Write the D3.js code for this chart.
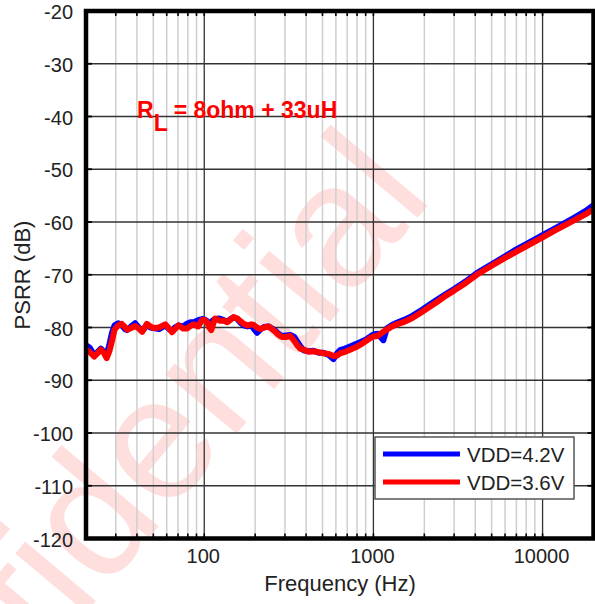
<!DOCTYPE html>
<html>
  <head>
    <meta charset="utf-8">
    <title>PSRR vs Frequency</title>
    <script src="https://d3js.org/d3.v7.min.js"></script>
    <style>
      body { margin: 0; background: #fff; }
      text { font-family: "Liberation Sans", Arial, sans-serif; }
    </style>
  </head>
  <body>
    <div id="chart"></div>
    <script>
      // Data
      var freq = [20, 21, 22.4, 23.5, 24.5, 25.5, 26.5, 27.5, 28.5, 29.5, 31, 32.5, 34, 35, 37, 39, 41, 43,
        45.8, 48, 50, 54, 58.8, 62, 64.5, 67, 70.5, 75, 79, 83, 86.5, 92, 97, 101, 104, 107, 110, 113,
        116, 123, 130, 137, 143, 149, 157, 165, 171, 180, 190, 196, 205, 214, 226, 240, 252, 263, 275,
        288, 305, 322, 340, 353, 370, 386, 415, 442, 475, 506, 545, 580, 610, 635, 680, 728, 780, 834,
        900, 960, 1000, 1060, 1145, 1200, 1290, 1375, 1505, 1700, 1885, 2100, 2365, 2700, 3000, 3500,
        4085, 5000, 6000, 7000, 8000, 10000, 12000, 15150, 18000, 20000];

      var vdd42 = [-83.4, -83.8, -85.3, -84.6, -84.0, -84.6, -85.2, -83.2, -81.0, -79.6, -79.2, -79.5,
        -80.3, -80.5, -79.8, -79.2, -80.0, -80.6, -79.6, -80.0, -80.1, -80.3, -79.6, -80.3, -80.7, -80.0,
        -79.6, -79.8, -79.3, -79.0, -79.0, -78.6, -78.4, -78.5, -78.8, -79.2, -79.0, -78.6, -78.4, -78.3,
        -78.6, -78.9, -78.4, -78.1, -78.4, -79.2, -79.6, -79.8, -79.6, -80.2, -81.0, -80.4, -79.9, -79.8,
        -80.2, -80.6, -81.2, -81.6, -81.5, -81.4, -81.8, -82.6, -83.6, -84.3, -84.5, -84.4, -84.8, -84.8,
        -85.2, -86.0, -84.9, -84.3, -84.0, -83.6, -83.2, -82.8, -82.3, -81.7, -81.3, -81.2, -82.4, -80.2,
        -79.5, -79.1, -78.6, -77.8, -76.9, -75.9, -74.8, -73.6, -72.7, -71.3, -69.7, -68.0, -66.5, -65.2,
        -64.2, -62.5, -61.1, -59.3, -57.9, -56.8];

      var vdd36 = [-84.2, -84.6, -85.5, -84.8, -84.2, -84.8, -85.8, -84.5, -82.5, -80.4, -79.6, -79.3,
        -79.9, -80.4, -80.1, -79.7, -80.2, -80.8, -79.3, -79.8, -80.1, -80.0, -79.4, -80.2, -80.9, -80.3,
        -79.6, -80.2, -80.2, -79.7, -79.4, -79.8, -78.6, -78.6, -79.0, -80.0, -80.5, -79.3, -78.3, -78.7,
        -78.7, -79.0, -78.5, -78.0, -78.3, -78.9, -79.3, -79.6, -79.4, -79.5, -80.0, -80.3, -80.0, -79.8,
        -80.3, -80.8, -81.4, -81.8, -81.8, -81.6, -82.5, -83.3, -84.0, -84.2, -84.6, -84.5, -84.7, -84.9,
        -85.0, -85.4, -85.3, -84.9, -84.6, -84.2, -83.8, -83.3, -82.6, -82.0, -81.7, -81.6, -80.8, -80.4,
        -79.8, -79.4, -79.0, -78.2, -77.3, -76.3, -75.2, -73.9, -73.0, -71.6, -70.0, -68.3, -66.8, -65.6,
        -64.6, -62.9, -61.5, -59.8, -58.5, -57.6];

      var seriesNames = ["VDD=4.2V", "VDD=3.6V"];
      var seriesColors = ["#0000ff", "#ff0000"];
      var yTicks = [-120, -110, -100, -90, -80, -70, -60, -50, -40, -30, -20];
      var xTicks = [100, 1000, 10000];

      var W = 595, H = 604;
      var pL = 86, pR = 593.5, pT = 11, pB = 538.5;

      var svg = d3.select("#chart")
        .append("svg")
          .attr("width", W)
          .attr("height", H);

      var x = d3.scaleLog().domain([20, 20000]).range([pL, pR]);
      var y = d3.scaleLinear().domain([-120, -20]).range([pB, pT]);

      // watermark
      svg.append("text")
        .attr("transform", "translate(435,197) rotate(-50)")
        .attr("text-anchor", "end")
        .style("font-size", "175px")
        .style("fill", "#ff0000")
        .style("fill-opacity", 0.13)
        .text("Confidential");

      // minor vertical grid
      var minor = [];
      [10, 100, 1000].forEach(function(d) {
        for (var k = 2; k <= 9; k++) {
          var v = d * k;
          if (v > 20 && v < 20000) minor.push(v);
        }
      });

      svg.append("g").selectAll("line")
        .data(minor)
        .enter().append("line")
          .attr("x1", function(d) { return x(d); })
          .attr("x2", function(d) { return x(d); })
          .attr("y1", pT)
          .attr("y2", pB)
          .attr("stroke", "#cfcfcf")
          .attr("stroke-width", 1.5);

      // major grid
      svg.append("g").selectAll("line")
        .data(xTicks)
        .enter().append("line")
          .attr("x1", function(d) { return x(d); })
          .attr("x2", function(d) { return x(d); })
          .attr("y1", pT)
          .attr("y2", pB)
          .attr("stroke", "#333")
          .attr("stroke-width", 1.3);

      svg.append("g").selectAll("line")
        .data(yTicks)
        .enter().append("line")
          .attr("x1", pL)
          .attr("x2", pR)
          .attr("y1", function(d) { return y(d); })
          .attr("y2", function(d) { return y(d); })
          .attr("stroke", "#333")
          .attr("stroke-width", 1.3);

      // small inward ticks on all four sides
      var allX = minor.concat(xTicks);
      [pT, pB].forEach(function(y0, i) {
        var dir = i == 0 ? 1 : -1;
        svg.append("g").selectAll("line")
          .data(allX)
          .enter().append("line")
            .attr("x1", function(d) { return x(d); })
            .attr("x2", function(d) { return x(d); })
            .attr("y1", y0)
            .attr("y2", y0 + dir * 5)
            .attr("stroke", "#000")
            .attr("stroke-width", 1.6);
      });
      [pL, pR].forEach(function(x0, i) {
        var dir = i == 0 ? 1 : -1;
        svg.append("g").selectAll("line")
          .data(yTicks)
          .enter().append("line")
            .attr("x1", x0)
            .attr("x2", x0 + dir * 6)
            .attr("y1", function(d) { return y(d); })
            .attr("y2", function(d) { return y(d); })
            .attr("stroke", "#000")
            .attr("stroke-width", 1.8);
      });

      // curves
      svg.append("clipPath").attr("id", "clip")
        .append("rect")
          .attr("x", pL).attr("y", pT)
          .attr("width", pR - pL).attr("height", pB - pT);

      var line = d3.line()
        .x(function(d) { return x(d[0]); })
        .y(function(d) { return y(d[1]); });

      [vdd42, vdd36].forEach(function(vals, i) {
        svg.append("path")
          .datum(freq.map(function(f, j) { return [f, vals[j]]; }))
          .attr("clip-path", "url(#clip)")
          .attr("fill", "none")
          .attr("stroke", seriesColors[i])
          .attr("stroke-width", 6)
          .attr("stroke-linejoin", "round")
          .attr("d", line);
      });

      // frame
      svg.append("rect")
        .attr("x", pL)
        .attr("y", pT)
        .attr("width", pR - pL)
        .attr("height", pB - pT)
        .attr("fill", "none")
        .attr("stroke", "#000")
        .attr("stroke-width", 4.5);

      // tick labels
      svg.append("g").selectAll("text")
        .data(yTicks)
        .enter().append("text")
          .attr("x", 73)
          .attr("y", function(d) { return y(d) + 1; })
          .attr("dy", "0.36em")
          .attr("text-anchor", "end")
          .style("font-size", "20px")
          .style("fill", "#222")
          .text(function(d) { return d; });

      svg.append("g").selectAll("text")
        .data(xTicks)
        .enter().append("text")
          .attr("x", function(d) { return x(d) - 1; })
          .attr("y", 563)
          .attr("text-anchor", "middle")
          .style("font-size", "20px")
          .style("fill", "#222")
          .text(function(d) { return d; });

      // axis titles
      svg.append("text")
        .attr("x", 340)
        .attr("y", 591)
        .attr("text-anchor", "middle")
        .style("font-size", "22px")
        .style("fill", "#222")
        .text("Frequency (Hz)");

      svg.append("text")
        .attr("transform", "translate(30,275) rotate(-90)")
        .attr("text-anchor", "middle")
        .style("font-size", "22px")
        .style("fill", "#222")
        .text("PSRR (dB)");

      // annotation
      var ann = svg.append("text")
        .attr("x", 137)
        .attr("y", 118)
        .style("font-size", "23px")
        .style("font-weight", "bold")
        .style("fill", "#ff0000");
      ann.append("tspan").text("R");
      ann.append("tspan").attr("dy", 13).text("L");
      ann.append("tspan").attr("dy", -13).text(" = 8ohm + 33uH");

      // legend
      var lg = svg.append("g");
      lg.append("rect")
        .attr("x", 375).attr("y", 437)
        .attr("width", 199).attr("height", 62)
        .attr("fill", "#fff")
        .attr("stroke", "#555")
        .attr("stroke-width", 1.5);
      seriesNames.forEach(function(name, i) {
        var ly = 454 + i * 28;
        lg.append("line")
          .attr("x1", 383).attr("x2", 460)
          .attr("y1", ly).attr("y2", ly)
          .attr("stroke", seriesColors[i])
          .attr("stroke-width", 5);
        lg.append("text")
          .attr("x", 467)
          .attr("y", ly + 8)
          .style("font-size", "20.5px")
          .style("fill", "#222")
          .text(name);
      });
    </script>
  </body>
</html>
